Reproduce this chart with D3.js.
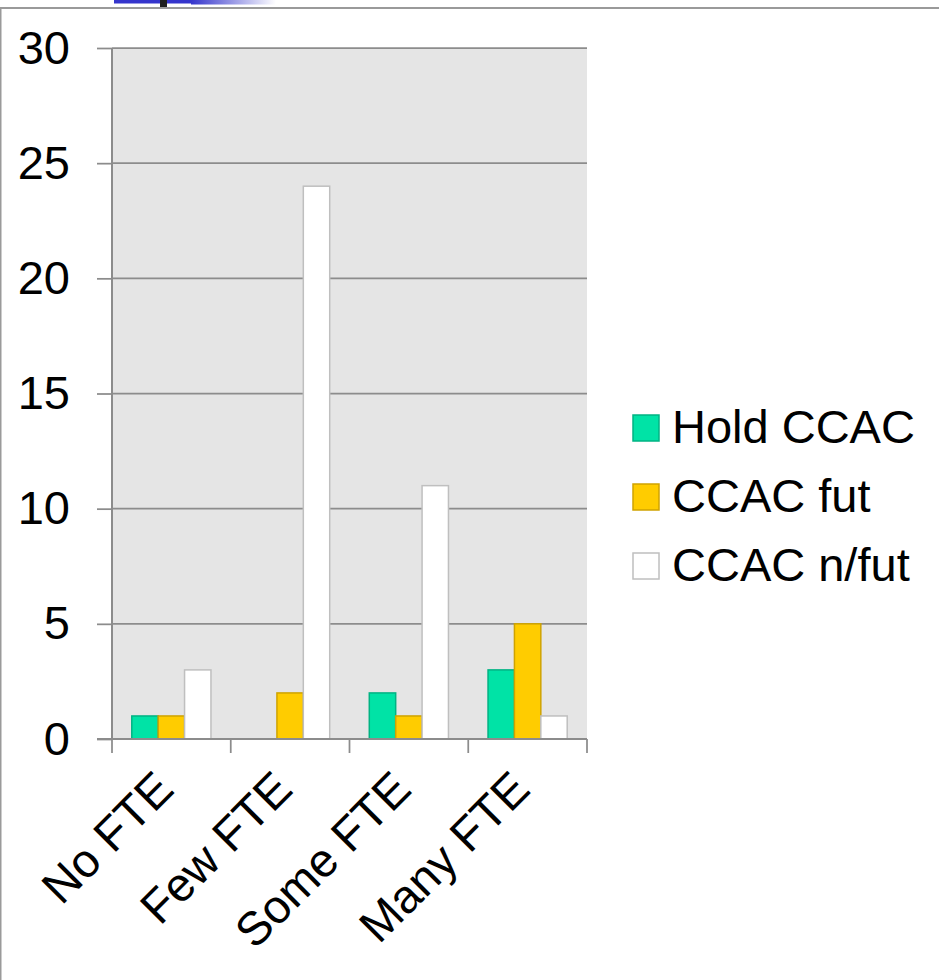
<!DOCTYPE html>
<html>
<head>
<meta charset="utf-8">
<script src="https://cdn.jsdelivr.net/npm/d3@7"></script>
<style>
  html, body { margin: 0; padding: 0; background: #fff; }
  svg { display: block; font-family: Arial, "Liberation Sans", sans-serif; }
</style>
</head>
<body>
<svg id="chart" width="939" height="980"></svg>
<script>
// Staff size groups and CCAC status counts
const categories = ["No FTE", "Few FTE", "Some FTE", "Many FTE"];
const seriesNames = ["Hold CCAC", "CCAC fut", "CCAC n/fut"];
const holdCCAC = [1, 0, 2, 3];
const ccacFut = [1, 2, 1, 5];
const ccacNotFut = [3, 24, 11, 1];
const yTicks = [0, 5, 10, 15, 20, 25, 30];

(function () {
  const seriesValues = [holdCCAC, ccacFut, ccacNotFut];
  const fills = ["#00e3a6", "#ffcc00", "#ffffff"];
  const strokes = ["#00b383", "#cfa300", "#bfbfbf"];
  const fontSize = 47;

  const svg = d3.select("#chart");

  // Slide header remnant and frame
  const defs = svg.append("defs");
  const grad = defs.append("linearGradient").attr("id", "hdrFade")
    .attr("x1", "0%").attr("x2", "100%").attr("y1", "0%").attr("y2", "0%");
  grad.append("stop").attr("offset", "0%").attr("stop-color", "#3535cc");
  grad.append("stop").attr("offset", "100%").attr("stop-color", "#ffffff");
  svg.append("rect").attr("x", 114).attr("y", 0).attr("width", 77).attr("height", 3.5).attr("fill", "#3535cc");
  svg.append("rect").attr("x", 191).attr("y", 0).attr("width", 85).attr("height", 4.5).attr("fill", "url(#hdrFade)");
  svg.append("rect").attr("x", 160).attr("y", 0).attr("width", 7).attr("height", 7.5).attr("fill", "#1e1e1e");
  svg.append("line").attr("x1", 0).attr("x2", 939).attr("y1", 8).attr("y2", 8)
    .attr("stroke", "#9a9a9a").attr("stroke-width", 2);
  svg.append("line").attr("x1", 0.75).attr("x2", 0.75).attr("y1", 8).attr("y2", 980)
    .attr("stroke", "#9a9a9a").attr("stroke-width", 1.5);

  // Plot geometry
  const plotLeft = 112, plotRight = 587, plotTop = 48, plotBottom = 739;

  const x = d3.scaleBand().domain(categories).range([plotLeft, plotRight]).paddingInner(0).paddingOuter(0);
  const xs = d3.scaleBand().domain(seriesNames).range([0, x.bandwidth()]).paddingInner(0).paddingOuter(0.75);
  const y = d3.scaleLinear().domain([0, 30]).range([plotBottom, plotTop]);

  // Plot area background
  svg.append("rect").attr("x", plotLeft).attr("y", plotTop)
    .attr("width", plotRight - plotLeft).attr("height", plotBottom - plotTop)
    .attr("fill", "#e5e5e5");

  // Horizontal gridlines
  svg.append("g").selectAll("line").data(yTicks.filter(t => t > 0)).join("line")
    .attr("x1", plotLeft).attr("x2", plotRight)
    .attr("y1", d => y(d)).attr("y2", d => y(d))
    .attr("stroke", "#8c8c8c").attr("stroke-width", 1.75);

  // Bars
  const groups = svg.append("g").selectAll("g").data(categories).join("g")
    .attr("transform", c => `translate(${x(c)},0)`);
  groups.selectAll("rect")
    .data((c, ci) => seriesNames.map((s, si) => ({ s, si, v: seriesValues[si][ci] })).filter(d => d.v > 0))
    .join("rect")
    .attr("x", d => xs(d.s))
    .attr("width", xs.bandwidth())
    .attr("y", d => y(d.v))
    .attr("height", d => y(0) - y(d.v))
    .attr("fill", d => fills[d.si])
    .attr("stroke", d => strokes[d.si])
    .attr("stroke-width", 1.5);

  // Y axis
  const yAxis = svg.append("g").attr("transform", `translate(${plotLeft},0)`)
    .call(d3.axisLeft(y).tickValues(yTicks).tickSize(15).tickPadding(27));
  yAxis.select(".domain").attr("stroke", "#8c8c8c").attr("stroke-width", 2)
    .attr("d", `M0,${plotTop}V${plotBottom}`);
  yAxis.selectAll(".tick line").attr("stroke", "#8c8c8c").attr("stroke-width", 1.75);
  yAxis.selectAll(".tick text").attr("font-size", fontSize).attr("fill", "#000")
    .attr("font-family", "Arial, 'Liberation Sans', sans-serif");

  // X axis: baseline with ticks at category boundaries
  const xAxis = svg.append("g").attr("transform", `translate(0,${plotBottom})`);
  xAxis.append("line").attr("x1", plotLeft - 15).attr("x2", plotRight).attr("y1", 0).attr("y2", 0)
    .attr("stroke", "#8c8c8c").attr("stroke-width", 2);
  const boundaries = categories.map(c => x(c)).concat([x.range()[1]]);
  xAxis.selectAll("line.tick").data(boundaries).join("line").attr("class", "tick")
    .attr("x1", d => d).attr("x2", d => d).attr("y1", 0).attr("y2", 14)
    .attr("stroke", "#8c8c8c").attr("stroke-width", 1.75);
  xAxis.selectAll("text").data(categories).join("text")
    .attr("transform", c => `translate(${x(c) + x.bandwidth() / 2 - 7},41) rotate(-45)`)
    .attr("text-anchor", "end")
    .attr("dy", "0.35em")
    .attr("font-size", fontSize)
    .attr("fill", "#000")
    .text(c => c);

  // Legend
  const legend = svg.append("g").attr("transform", "translate(633,428)");
  const items = legend.selectAll("g").data(seriesNames).join("g")
    .attr("transform", (d, i) => `translate(0,${i * 69})`);
  items.append("rect").attr("x", 0).attr("y", -13).attr("width", 26).attr("height", 26)
    .attr("fill", (d, i) => fills[i]).attr("stroke", (d, i) => strokes[i]).attr("stroke-width", 1.5);
  items.append("text").attr("x", 39).attr("y", 0).attr("dy", "0.32em")
    .attr("font-size", fontSize).attr("fill", "#000").text(d => d);
})();
</script>
</body>
</html>
